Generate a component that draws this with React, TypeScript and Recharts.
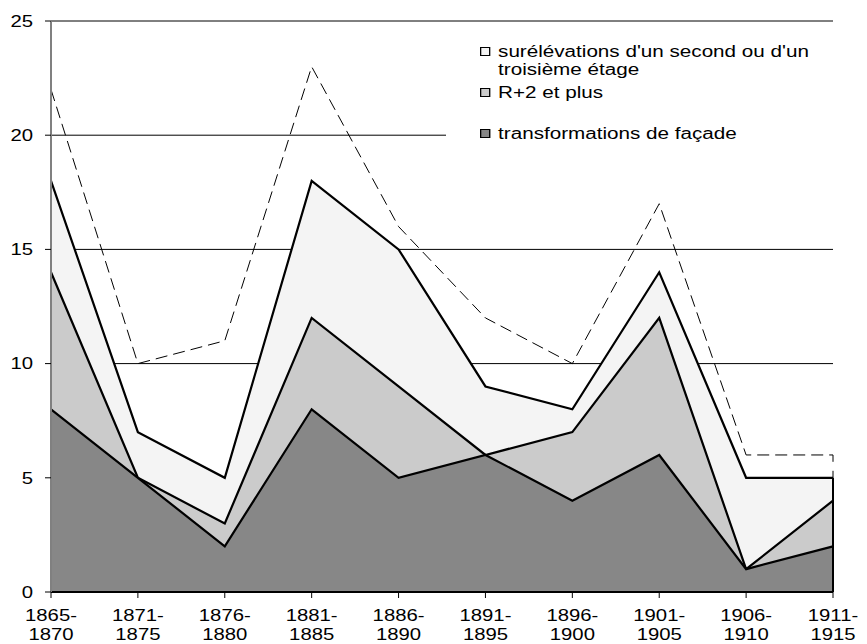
import { AreaChart, Area, Line, XAxis, YAxis, CartesianGrid, Legend, ReferenceLine } from 'recharts'

const periods = [
  '1865-1870', '1871-1875', '1876-1880', '1881-1885', '1886-1890',
  '1891-1895', '1896-1900', '1901-1905', '1906-1910', '1911-1915',
]
// values per period
const facade = [8, 5, 2, 8, 5, 6, 4, 6, 1, 2]
const r2plus = [6, 0, 1, 4, 4, 0, 3, 6, 0, 2]
const surelevations = [4, 2, 2, 6, 6, 3, 1, 2, 4, 1]
const total = [22, 10, 11, 23, 16, 12, 10, 17, 6, 6]
const yTicks = [0, 5, 10, 15, 20, 25]

const FONT = '"Liberation Sans", Arial, sans-serif'
const STRETCH = 1.27

const legendItems = [
  { label: ["surélévations d'un second ou d'un", 'troisième étage'], color: '#f4f4f4', top: 13 },
  { label: ['R+2 et plus'], color: '#cbcbcb', top: 54 },
  { label: ['transformations de façade'], color: '#878787', top: 95 },
]

// drawn as overlapping areas, tallest first, like the original spreadsheet
const data = periods.map((p, i) => ({
  period: p,
  facade: facade[i],
  r2: facade[i] + r2plus[i],
  surelev: facade[i] + r2plus[i] + surelevations[i],
  total: total[i],
}))

const last = periods.length - 1

function XTick({ x, y, payload }: any) {
  const [a, b] = String(payload.value).split('-')
  return (
    <g transform={`translate(${x},${y})`}>
      <text transform={`scale(${STRETCH},1)`} textAnchor="middle" fontSize={16} fontFamily={FONT} fill="#000">
        <tspan x={0} dy={21}>{a}-</tspan>
        <tspan x={0} dy={19.5}>{b}</tspan>
      </text>
    </g>
  )
}

function YTick({ x, y, payload }: any) {
  return (
    <g transform={`translate(${x},${y})`}>
      <text transform={`scale(${STRETCH},1)`} textAnchor="end" dy="0.36em" fontSize={16} fontFamily={FONT} fill="#000">
        {payload.value}
      </text>
    </g>
  )
}

function LegendBox() {
  return (
    <div style={{ position: 'relative', width: 395, height: 118, background: '#fff' }}>
      <div style={{ position: 'absolute', left: 34, top: 0, transform: 'scaleX(1.29)', transformOrigin: 'left top' }}>
        {legendItems.map((it) => (
          <div key={it.label[0]} style={{ position: 'absolute', top: it.top, left: 0, whiteSpace: 'nowrap' }}>
            <div style={{
              position: 'absolute', left: 0, top: 4, width: 8, height: 9,
              boxSizing: 'border-box', border: '1px solid #000', background: it.color,
            }} />
            <div style={{ position: 'absolute', left: 14, top: 0, fontSize: 16, lineHeight: '18px', fontFamily: FONT, color: '#000' }}>
              {it.label.map((l) => <div key={l}>{l}</div>)}
            </div>
          </div>
        ))}
      </div>
    </div>
  )
}

export default function App() {
  return (
    <div style={{ position: 'absolute', left: 0, top: 0, background: '#fff' }}>
      <AreaChart width={867} height={644} data={data} margin={{ top: 21, right: 34, bottom: 0, left: 0 }}>
        <CartesianGrid vertical={false} stroke="#000" strokeWidth={1} />
        <XAxis
          dataKey="period"
          interval={0}
          height={52}
          tick={<XTick />}
          tickSize={6}
          axisLine={{ stroke: '#000', strokeWidth: 2 }}
          tickLine={{ stroke: '#000' }}
        />
        <YAxis
          domain={[0, 25]}
          ticks={yTicks}
          width={51}
          tick={<YTick />}
          tickSize={6}
          tickMargin={12}
          axisLine={{ stroke: '#808080', strokeWidth: 2 }}
          tickLine={{ stroke: '#000' }}
        />
        <Legend
          layout="vertical"
          align="center"
          verticalAlign="middle"
          content={<LegendBox />}
          wrapperStyle={{ left: 446, top: 30, width: 395, height: 118, bottom: 'auto', right: 'auto' }}
        />
        <Area type="linear" dataKey="surelev" fill="#f4f4f4" fillOpacity={1} stroke="#000" strokeWidth={2.2} isAnimationActive={false} />
        <Area type="linear" dataKey="r2" fill="#cbcbcb" fillOpacity={1} stroke="#000" strokeWidth={2.2} isAnimationActive={false} />
        <Area type="linear" dataKey="facade" fill="#878787" fillOpacity={1} stroke="#000" strokeWidth={2.2} isAnimationActive={false} />
        <Line type="linear" dataKey="total" stroke="#000" strokeWidth={1} strokeDasharray="12 6" dot={false} isAnimationActive={false} />
        <ReferenceLine
          segment={[{ x: periods[0], y: 0 }, { x: periods[0], y: data[0].surelev }]}
          stroke="#000"
          strokeWidth={2}
        />
        <ReferenceLine
          segment={[{ x: periods[last], y: 0 }, { x: periods[last], y: data[last].surelev }]}
          stroke="#000"
          strokeWidth={2}
        />
        <ReferenceLine
          segment={[{ x: periods[last], y: data[last].surelev }, { x: periods[last], y: total[last] }]}
          stroke="#000"
          strokeWidth={1}
          strokeDasharray="7 9"
        />
      </AreaChart>
    </div>
  )
}
